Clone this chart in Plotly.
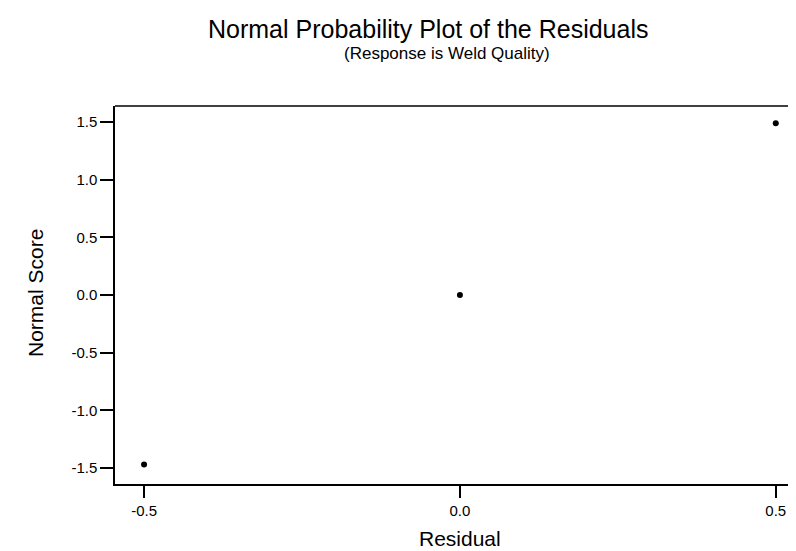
import plotly.graph_objects as go

residual = [-0.5, 0.0, 0.5]
normal_score = [-1.47, 0.0, 1.49]
x_ticks = [-0.5, 0.0, 0.5]
x_tick_labels = ["-0.5", "0.0", "0.5"]
y_ticks = [-1.5, -1.0, -0.5, 0.0, 0.5, 1.0, 1.5]
y_tick_labels = ["-1.5", "-1.0", "-0.5", "0.0", "0.5", "1.0", "1.5"]

FONT = "Liberation Sans, Arial, Helvetica, sans-serif"

# page body offset (default 8px body margin) compensation
OFF = 8
W, H = 788, 543
L, T, R = 115 - OFF, 106 - OFF, 0
B = H - (484 - OFF)

fig = go.Figure()
fig.add_trace(go.Scatter(
    x=residual, y=normal_score, mode="markers",
    marker=dict(symbol="circle", size=6, color="black"),
    showlegend=False, hoverinfo="x+y"))

fig.update_layout(
    width=W, height=H,
    margin=dict(l=L, r=R, t=T, b=B),
    paper_bgcolor="white", plot_bgcolor="white",
    font=dict(family=FONT, color="black", size=15),
    xaxis=dict(range=[-0.546, 0.532], tickvals=x_ticks, ticktext=x_tick_labels,
               showgrid=False, zeroline=False, showline=True, linecolor="black",
               linewidth=1.5, mirror=False, ticks="outside", ticklen=12,
               tickwidth=1.5, tickcolor="black", tickfont=dict(size=15)),
    yaxis=dict(range=[-1.639, 1.639], tickvals=y_ticks, ticktext=y_tick_labels,
               showgrid=False, zeroline=False, showline=True, linecolor="black",
               linewidth=1.5, mirror=False, ticks="outside", ticklen=13,
               tickwidth=1.5, tickcolor="black", tickfont=dict(size=15)),
)
# top frame line (the frame is open on the right)
fig.add_shape(type="line", xref="paper", yref="paper", x0=0, x1=1.02, y0=1, y1=1,
              line=dict(color="black", width=1.5))

plot_w = W - L - R
plot_h = H - T - B


def page_to_paper(px, py):
    fx, fy = px - OFF, py - OFF
    return (fx - L) / plot_w, (H - B - fy) / plot_h


texts = [
    ("Normal Probability Plot of the Residuals", 428, 29, 25, 0),
    ("(Response is Weld Quality)", 447, 54, 17, 0),
    ("Residual", 460, 538, 21, 0),
    ("Normal Score", 35, 293, 21, -90),
]
for txt, px, py, size, ang in texts:
    ax, ay = page_to_paper(px, py)
    fig.add_annotation(text=txt, x=ax, y=ay, xref="paper", yref="paper",
                       showarrow=False, xanchor="center", yanchor="middle",
                       textangle=ang, font=dict(size=size, family=FONT))

fig.write_html("out.html")
